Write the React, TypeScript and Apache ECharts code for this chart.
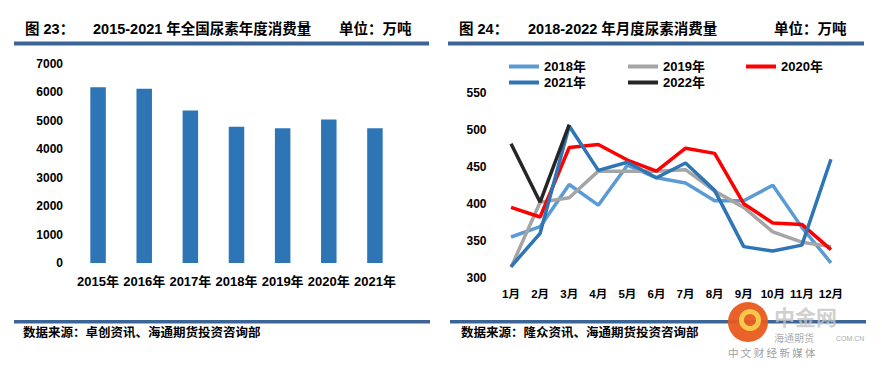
import React, { useEffect, useRef } from "react";
import * as echarts from "echarts";

const yearCats = ["2015年", "2016年", "2017年", "2018年", "2019年", "2020年", "2021年"];
const yearValues = [6180, 6130, 5360, 4790, 4740, 5050, 4740];

const monthCats = ["1月", "2月", "3月", "4月", "5月", "6月", "7月", "8月", "9月", "10月", "11月", "12月"];
const s2018 = [355, 369, 426, 398, 452, 435, 428, 404, 404, 425, 368, 320];
const s2019 = [314, 402, 408, 444, 444, 444, 446, 417, 395, 362, 348, 342];
const s2020 = [395, 382, 476, 480, 459, 444, 475, 468, 400, 374, 372, 338];
const s2021 = [315, 360, 505, 445, 456, 435, 455, 418, 342, 336, 344, 460];
const s2022 = [481, 402, 507];

const seriesNames = ["2018年", "2019年", "2020年", "2021年", "2022年"];
const seriesColors = ["#5b9bd5", "#a5a5a5", "#ff0000", "#2e75b6", "#262626"];

const FONT = "'Liberation Sans', Arial, 'Noto Sans CJK SC', sans-serif";
const CJK = "'Noto Sans CJK SC', sans-serif";
const HEADER = "#3b6597";

export default function App() {
  const ref = useRef<HTMLDivElement>(null);
  useEffect(() => {
    if (!ref.current) return;
    const chart = echarts.init(ref.current, null, { renderer: "svg" });
    const lineData = [s2018, s2019, s2020, s2021, s2022];
    const legendPos = [
      [504, 55],
      [623, 55],
      [741, 55],
      [504, 71],
      [623, 71],
    ];
    const titleStyle = { fontSize: 14.5, fontWeight: "bold", fill: "#000", fontFamily: FONT };
    const srcStyle = { fontSize: 12.5, fontWeight: "bold", fill: "#000", fontFamily: CJK };
    chart.setOption({
      animation: false,
      backgroundColor: "#fff",
      grid: [
        { left: 75, top: 64, width: 323, height: 199 },
        { left: 496.5, top: 92.7, width: 349, height: 185 },
      ],
      legend: seriesNames.map((n, i) => ({
        data: [{ name: n, icon: "rect" }],
        left: legendPos[i][0],
        top: legendPos[i][1],
        itemWidth: 30,
        itemHeight: 4,
        itemGap: 5,
        textStyle: { fontSize: 13, fontWeight: "bold", color: "#000", fontFamily: FONT },
      })),
      xAxis: [
        {
          type: "category",
          gridIndex: 0,
          data: yearCats,
          axisLine: { show: false },
          axisTick: { show: false },
          axisLabel: { fontSize: 13, fontWeight: "bold", color: "#000", fontFamily: FONT, margin: 12, interval: 0 },
        },
        {
          type: "category",
          gridIndex: 1,
          data: monthCats,
          boundaryGap: true,
          axisLine: { show: false },
          axisTick: { show: false },
          axisLabel: { fontSize: 11.5, fontWeight: "bold", color: "#000", fontFamily: FONT, margin: 11, interval: 0 },
        },
      ],
      yAxis: [
        {
          type: "value",
          gridIndex: 0,
          min: 0,
          max: 7000,
          interval: 1000,
          splitLine: { show: false },
          axisLine: { show: false },
          axisTick: { show: false },
          axisLabel: {
            fontSize: 12,
            fontWeight: "bold",
            color: "#000",
            fontFamily: FONT,
            margin: 12,
            formatter: (v: number) => String(v),
          },
        },
        {
          type: "value",
          gridIndex: 1,
          min: 300,
          max: 550,
          interval: 50,
          splitLine: { show: false },
          axisLine: { show: false },
          axisTick: { show: false },
          axisLabel: { fontSize: 12, fontWeight: "bold", color: "#000", fontFamily: FONT, margin: 10 },
        },
      ],
      series: [
        {
          type: "bar",
          xAxisIndex: 0,
          yAxisIndex: 0,
          data: yearValues,
          barWidth: 15.5,
          itemStyle: { color: "#2e75b6" },
        },
        ...seriesNames.map((n, i) => ({
          type: "line",
          name: n,
          xAxisIndex: 1,
          yAxisIndex: 1,
          data: lineData[i],
          symbol: "none",
          lineStyle: { color: seriesColors[i], width: 3.5 },
          itemStyle: { color: seriesColors[i] },
        })),
      ],
      graphic: [
        { type: "text", left: 25, top: 22, style: { ...titleStyle, text: "图 23：" } },
        { type: "text", left: 93, top: 22, style: { ...titleStyle, text: "2015-2021 年全国尿素年度消费量" } },
        { type: "text", left: 339, top: 22, style: { ...titleStyle, text: "单位：万吨" } },
        { type: "text", left: 459, top: 22, style: { ...titleStyle, text: "图 24：" } },
        { type: "text", left: 528, top: 22, style: { ...titleStyle, text: "2018-2022 年月度尿素消费量" } },
        { type: "text", left: 774, top: 22, style: { ...titleStyle, text: "单位：万吨" } },
        { type: "rect", shape: { x: 14, y: 41.5, width: 415, height: 4 }, style: { fill: HEADER } },
        { type: "rect", shape: { x: 448, y: 41.5, width: 416, height: 4 }, style: { fill: HEADER } },
        { type: "rect", shape: { x: 14, y: 320, width: 416, height: 3.5 }, style: { fill: HEADER } },
        { type: "rect", shape: { x: 450, y: 320, width: 416, height: 3.5 }, style: { fill: HEADER } },
        { type: "text", left: 23, top: 325, style: { ...srcStyle, text: "数据来源：卓创资讯、海通期货投资咨询部" } },
        { type: "text", left: 461, top: 325, style: { ...srcStyle, text: "数据来源：隆众资讯、海通期货投资咨询部" } },
        // watermark
        { type: "circle", shape: { cx: 748, cy: 322, r: 20 }, style: { fill: "#e85a1f", opacity: 0.95 } },
        { type: "circle", shape: { cx: 750, cy: 320, r: 8.5 }, style: { fill: "none", stroke: "#f7c94a", lineWidth: 5 } },
        { type: "text", left: 774, top: 305, style: { text: "中金网", fontSize: 21, fontWeight: "bold", fill: "#c4c4c4", fontFamily: CJK, opacity: 0.8 } },
        { type: "text", left: 774, top: 332, style: { text: "海通期货", fontSize: 10, fill: "#555", fontFamily: CJK, opacity: 0.5 } },
        { type: "text", left: 836, top: 335, style: { text: "COM.CN", fontSize: 7, fill: "#aaa", fontFamily: FONT } },
        { type: "text", left: 728, top: 347, style: { text: "中 文 财 经 新 媒 体", fontSize: 10.5, fill: "#a0a0a0", fontFamily: CJK } },
      ],
    });
    return () => chart.dispose();
  }, []);
  return <div ref={ref} style={{ position: "fixed", left: 0, top: 0, width: 882, height: 369 }} />;
}
